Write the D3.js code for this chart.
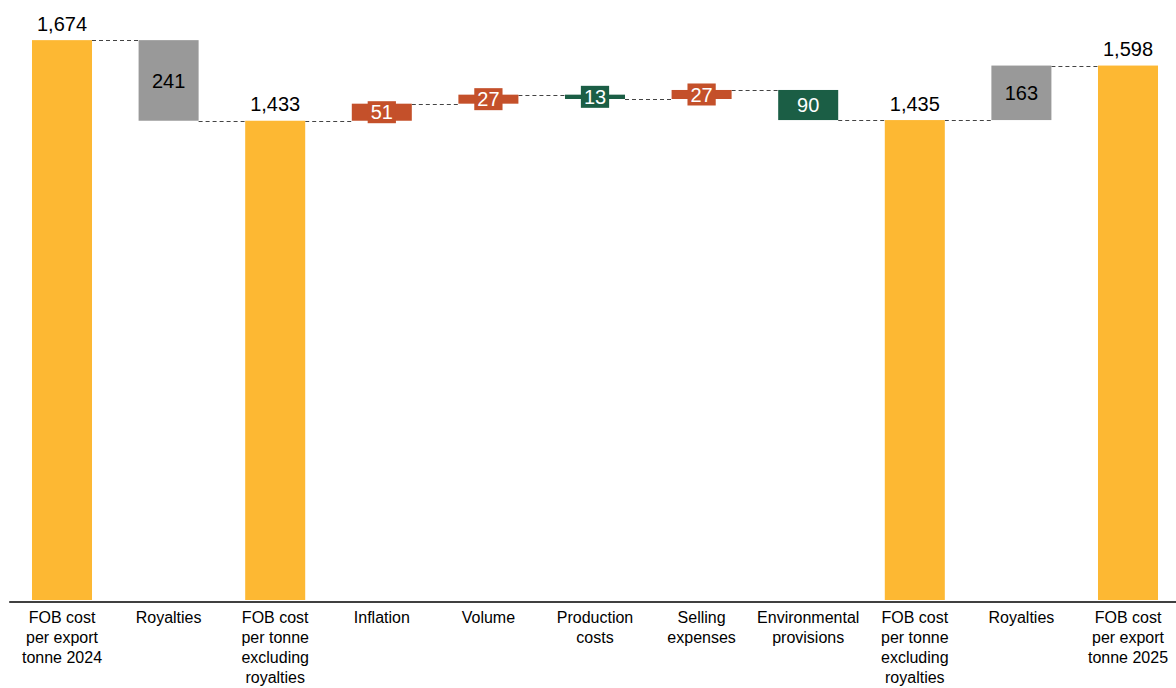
<!DOCTYPE html>
<html>
<head>
<meta charset="utf-8">
<script src="https://cdn.jsdelivr.net/npm/d3@7"></script>
<style>
  html, body { margin: 0; padding: 0; background: #fff; }
  svg { display: block; font-family: "Liberation Sans", Arial, sans-serif; }
</style>
</head>
<body>
<svg id="chart" width="1176" height="688"></svg>
<script>
// ---- Data ----
const categories = [
  ["FOB cost", "per export", "tonne 2024"],
  ["Royalties"],
  ["FOB cost", "per tonne", "excluding", "royalties"],
  ["Inflation"],
  ["Volume"],
  ["Production", "costs"],
  ["Selling", "expenses"],
  ["Environmental", "provisions"],
  ["FOB cost", "per tonne", "excluding", "royalties"],
  ["Royalties"],
  ["FOB cost", "per export", "tonne 2025"]
];
const values = [1674, -241, 1433, 51, 27, -13, 27, -90, 1435, 163, 1598];
const kinds = ["total", "royalty", "total", "increase", "increase", "decrease", "increase", "decrease", "total", "royalty", "total"];
const yTicks = [0, 1800];

// ---- Styles ----
const colors = { total: "#FDB833", royalty: "#999999", increase: "#C4502A", decrease: "#1B5E45" };
const textColors = { total: "#000", royalty: "#000", increase: "#fff", decrease: "#fff" };

// ---- Build waterfall ----
let running = 0;
const rows = values.map((v, i) => {
  let start, end;
  if (kinds[i] === "total") { start = 0; end = v; }
  else { start = running; end = running + v; }
  running = end;
  return { i, v, kind: kinds[i], start, end, lo: Math.min(start, end), hi: Math.max(start, end) };
});

const svg = d3.select("#chart");
const x = d3.scaleBand().domain(d3.range(values.length))
  .range([8.7, 1181.3]).paddingInner(0.437).paddingOuter(0.2185);
const y = d3.scaleLinear().domain([yTicks[0], yTicks[1]]).range([600, -2]);

// connectors
const conn = svg.append("g");
rows.slice(0, -1).forEach((d, k) => {
  const n = rows[k + 1];
  const yy = Math.round(y(d.end)) + 0.5;
  conn.append("line")
    .attr("x1", x(d.i) + x.bandwidth()).attr("x2", x(n.i))
    .attr("y1", yy).attr("y2", yy)
    .attr("stroke", "#444").attr("stroke-width", 1)
    .attr("stroke-dasharray", "4,3");
});

// bars
svg.append("g").selectAll("rect").data(rows).join("rect")
  .attr("x", d => x(d.i)).attr("width", x.bandwidth())
  .attr("y", d => y(d.hi)).attr("height", d => y(d.lo) - y(d.hi))
  .attr("fill", d => colors[d.kind]);

// labels
const lab = svg.append("g").attr("font-size", 20);
rows.forEach(d => {
  const cx = x(d.i) + x.bandwidth() / 2;
  if (d.kind === "total") {
    lab.append("text").attr("x", cx).attr("y", y(d.hi) - 9.5)
      .attr("text-anchor", "middle").attr("fill", "#000")
      .text(d3.format(",")(d.v));
  } else {
    const cy = (y(d.hi) + y(d.lo)) / 2;
    const h = y(d.lo) - y(d.hi);
    const g = lab.append("g");
    const box = g.append("rect");
    const t = g.append("text").attr("x", cx).attr("y", cy + 7.2)
      .attr("text-anchor", "middle").attr("fill", textColors[d.kind])
      .text(Math.abs(d.v));
    if (h < 24) {
      const w = t.node().getComputedTextLength() + 6;
      box.attr("x", cx - w / 2).attr("width", w)
        .attr("y", cy - 11).attr("height", 22)
        .attr("fill", colors[d.kind]);
    }
  }
});

// x axis
const axis = d3.axisBottom(x).tickSize(0).tickSizeOuter(0).tickFormat("");
const ax = svg.append("g").attr("transform", "translate(0,601.5)").call(axis);
ax.select(".domain").attr("stroke", "#000").attr("stroke-width", 1.5);
ax.selectAll(".tick").each(function(i) {
  const t = d3.select(this).append("text")
    .attr("fill", "#000").attr("font-size", 16)
    .attr("font-family", "'Liberation Sans', Arial, sans-serif")
    .attr("text-anchor", "middle");
  categories[i].forEach((line, k) => {
    t.append("tspan").attr("x", 0).attr("y", 21.5 + k * 20).text(line);
  });
});
</script>
</body>
</html>
